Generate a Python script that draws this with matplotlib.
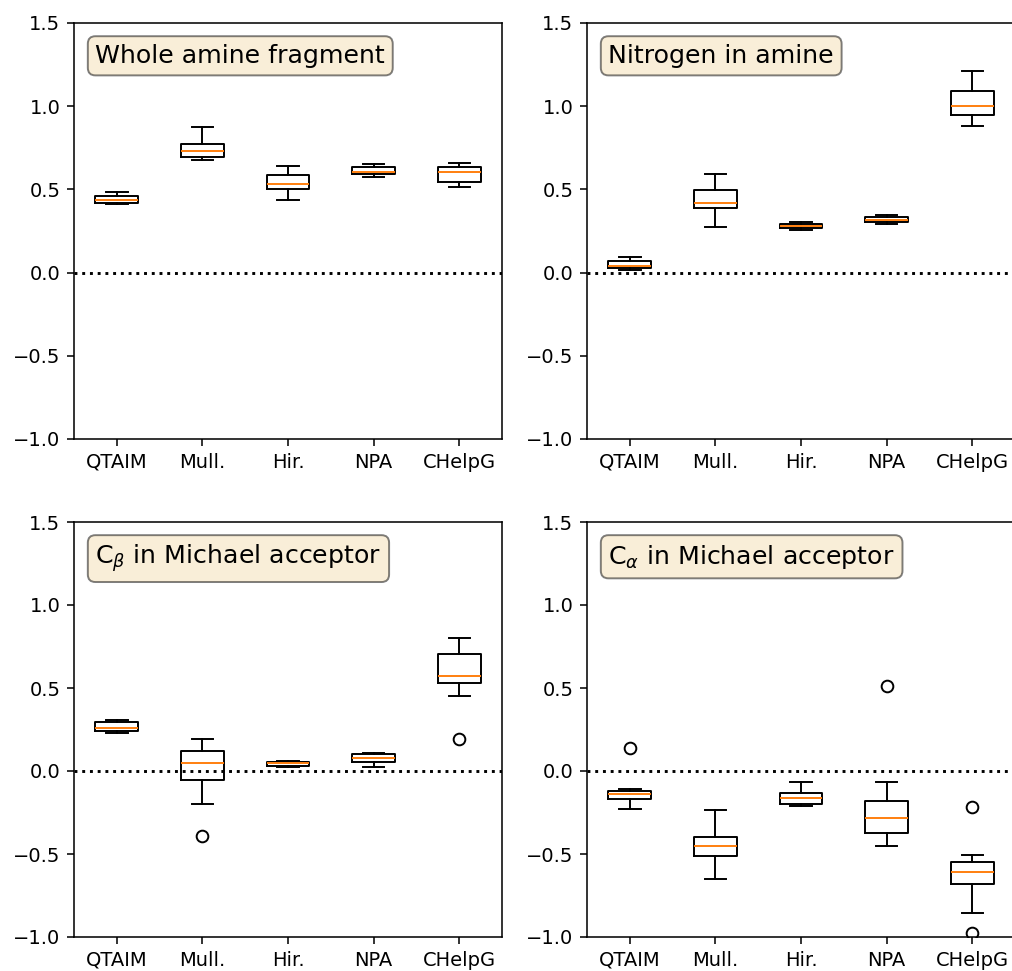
import matplotlib
matplotlib.use("Agg")
import matplotlib.pyplot as plt

methods = ["QTAIM", "Mull.", "Hir.", "NPA", "CHelpG"]

# box statistics, one list per quantity, one entry per method
# Whole amine fragment
amine_whislo = [0.412, 0.675, 0.438, 0.576, 0.514]
amine_q1 = [0.420, 0.693, 0.500, 0.592, 0.546]
amine_med = [0.436, 0.733, 0.530, 0.604, 0.606]
amine_q3 = [0.460, 0.775, 0.586, 0.633, 0.633]
amine_whishi = [0.482, 0.877, 0.639, 0.655, 0.657]
amine_fliers = [[], [], [], [], []]

# Nitrogen in amine
nitro_whislo = [0.018, 0.273, 0.255, 0.291, 0.882]
nitro_q1 = [0.030, 0.390, 0.267, 0.305, 0.946]
nitro_med = [0.040, 0.420, 0.281, 0.319, 1.002]
nitro_q3 = [0.072, 0.498, 0.293, 0.333, 1.092]
nitro_whishi = [0.094, 0.594, 0.307, 0.345, 1.213]
nitro_fliers = [[], [], [], [], []]

# C beta in Michael acceptor
cbeta_whislo = [0.227, -0.199, 0.024, 0.026, 0.450]
cbeta_q1 = [0.239, -0.054, 0.032, 0.056, 0.528]
cbeta_med = [0.259, 0.050, 0.046, 0.080, 0.570]
cbeta_q3 = [0.295, 0.122, 0.056, 0.100, 0.703]
cbeta_whishi = [0.305, 0.195, 0.062, 0.108, 0.801]
cbeta_fliers = [[], [-0.390], [], [], [0.195]]

# C alpha in Michael acceptor
calpha_whislo = [-0.231, -0.651, -0.211, -0.454, -0.857]
calpha_q1 = [-0.169, -0.512, -0.197, -0.376, -0.681]
calpha_med = [-0.141, -0.454, -0.161, -0.281, -0.606]
calpha_q3 = [-0.118, -0.400, -0.135, -0.179, -0.548]
calpha_whishi = [-0.108, -0.235, -0.068, -0.068, -0.506]
calpha_fliers = [[0.141], [], [], [0.514], [-0.217, -0.974]]

titles = [
    "Whole amine fragment",
    "Nitrogen in amine",
    r"C$_\beta$ in Michael acceptor",
    r"C$_\alpha$ in Michael acceptor",
]


def make_stats(whislo, q1, med, q3, whishi, fliers):
    stats = []
    for i in range(len(methods)):
        stats.append(
            {
                "label": methods[i],
                "whislo": whislo[i],
                "q1": q1[i],
                "med": med[i],
                "q3": q3[i],
                "whishi": whishi[i],
                "fliers": fliers[i],
            }
        )
    return stats


panels = [
    make_stats(amine_whislo, amine_q1, amine_med, amine_q3, amine_whishi, amine_fliers),
    make_stats(nitro_whislo, nitro_q1, nitro_med, nitro_q3, nitro_whishi, nitro_fliers),
    make_stats(cbeta_whislo, cbeta_q1, cbeta_med, cbeta_q3, cbeta_whishi, cbeta_fliers),
    make_stats(calpha_whislo, calpha_q1, calpha_med, calpha_q3, calpha_whishi, calpha_fliers),
]

W, H = 1012, 971
fig = plt.figure(figsize=(W / 140, H / 140), dpi=140)

# axes boxes in pixels (left, top, right, bottom) - the original is cropped at right/bottom
boxes = [
    (74, 23, 502, 439),
    (587, 23, 1015, 439),
    (74, 522, 502, 937),
    (587, 522, 1015, 937),
]

props = dict(boxstyle="round", facecolor="wheat", alpha=0.5)

for stats, title, (l, t, r, b) in zip(panels, titles, boxes):
    ax = fig.add_axes([l / W, 1 - b / H, (r - l) / W, (b - t) / H])
    ax.bxp(stats, positions=range(1, 6))
    ax.axhline(0, color="k", linestyle=":", linewidth=1.5)
    ax.set_ylim(-1.0, 1.5)
    ax.set_yticks([-1.0, -0.5, 0.0, 0.5, 1.0, 1.5])
    ax.set_xlim(0.5, 5.5)
    ax.text(
        0.05,
        0.95,
        title,
        transform=ax.transAxes,
        fontsize=13,
        verticalalignment="top",
        bbox=props,
    )

fig.savefig("out.png", dpi=140)
